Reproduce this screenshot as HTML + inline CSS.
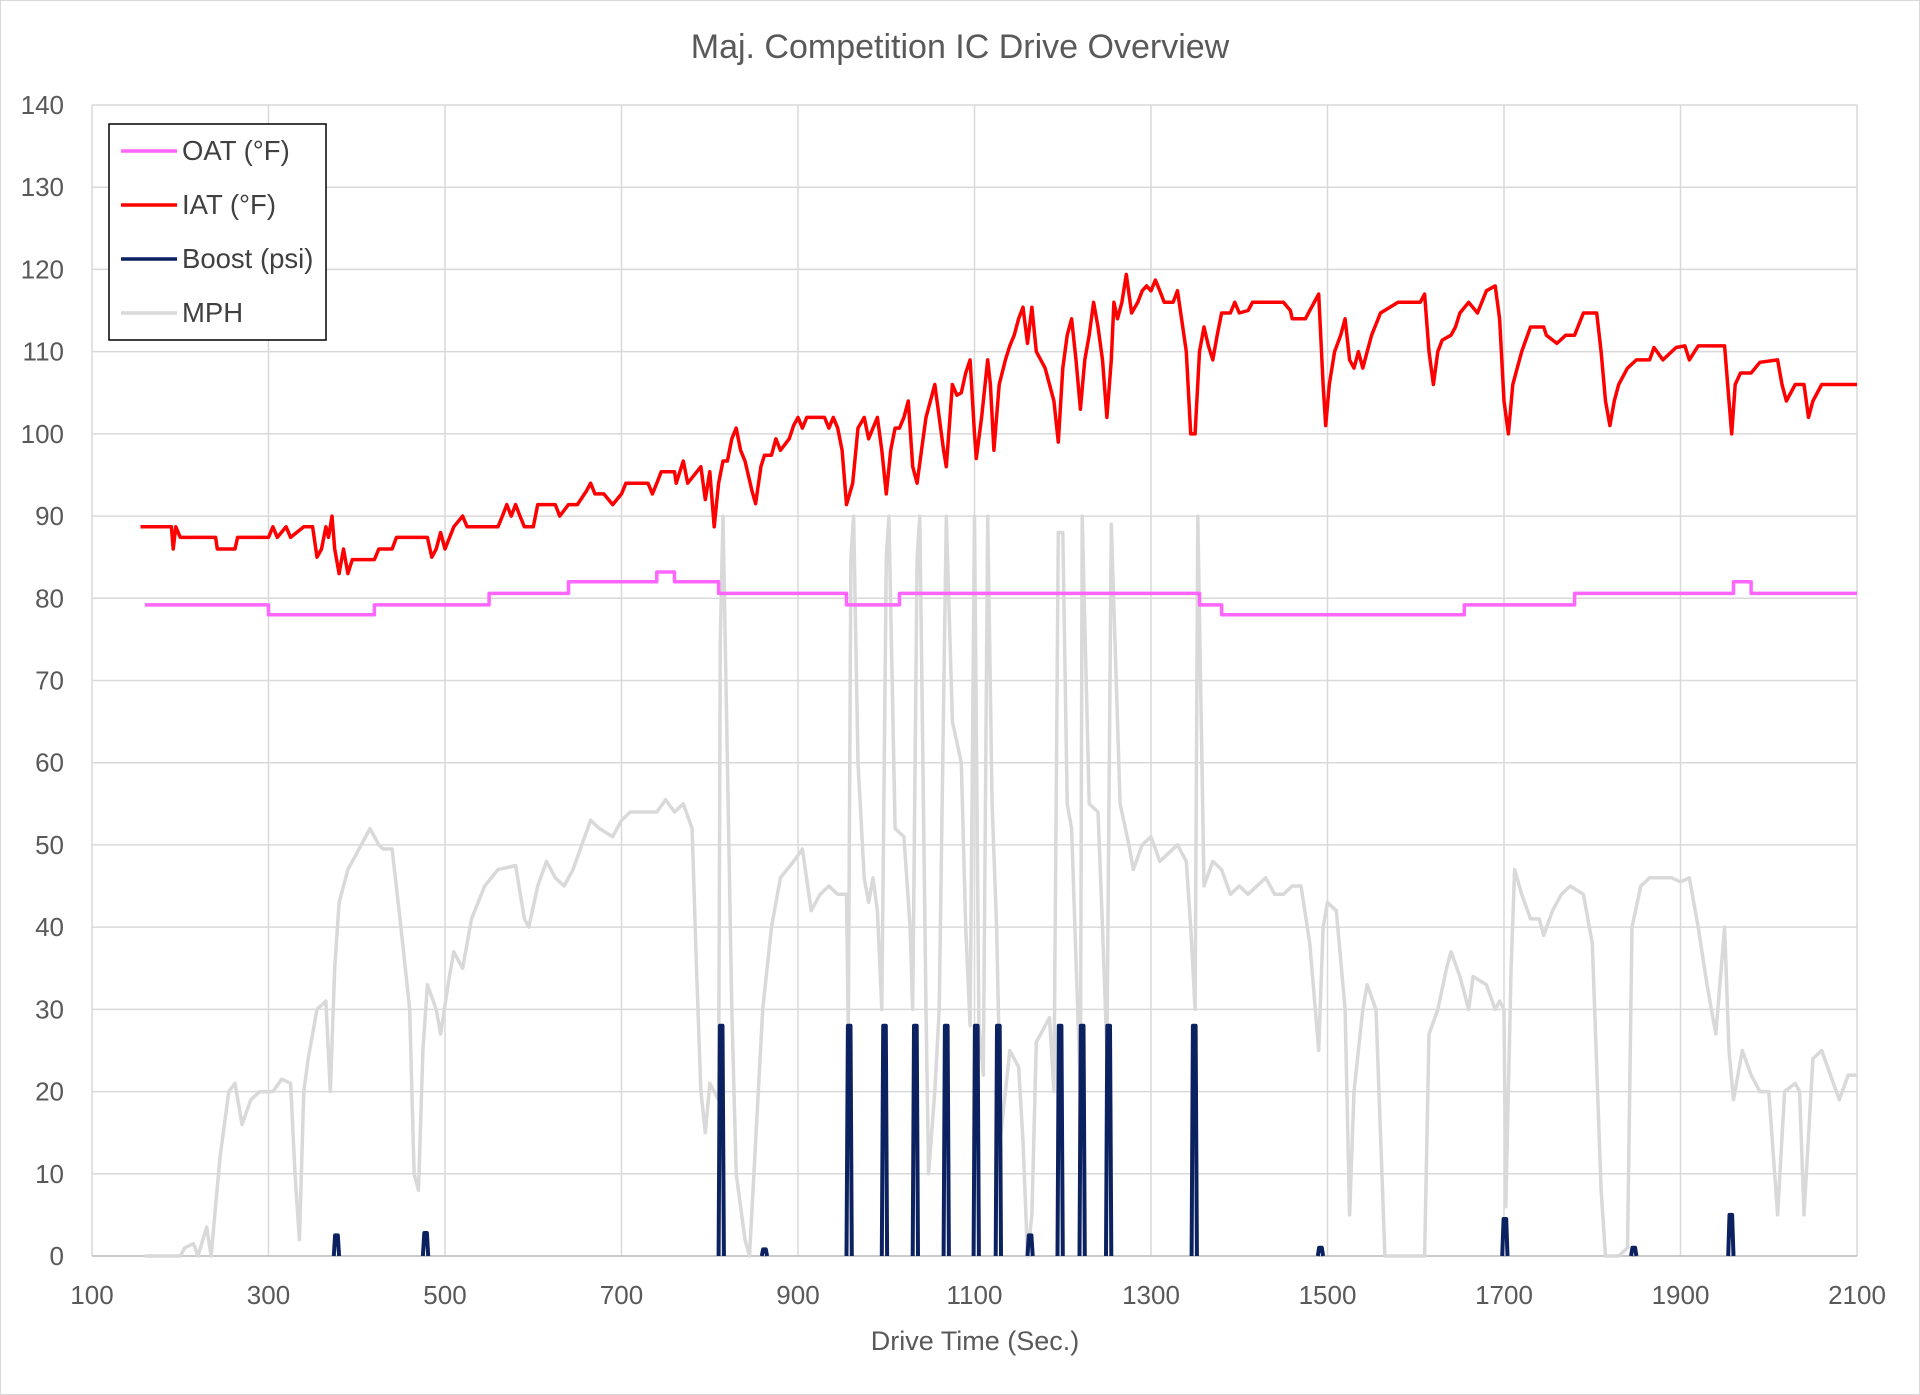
<!DOCTYPE html>
<html><head><meta charset="utf-8"><style>
html,body{margin:0;padding:0;background:#fff;}
svg{display:block;font-family:"Liberation Sans",sans-serif;}
</style></head><body>
<svg id="chart" width="1920" height="1395" viewBox="0 0 1920 1395" xmlns="http://www.w3.org/2000/svg">
<rect x="0.5" y="0.5" width="1919" height="1394" fill="#fff" stroke="#d9d9d9"/>
<text x="960" y="58" text-anchor="middle" font-size="34" fill="#595959">Maj. Competition IC Drive Overview</text>
<g id="grid"></g>
<g id="ticks"></g>
<g id="series"></g>
<text x="975" y="1350" text-anchor="middle" font-size="27" fill="#595959">Drive Time (Sec.)</text>
<g>
<rect x="109" y="124" width="217" height="216" fill="#fff" stroke="#000" stroke-width="1.5"/>
<g><line x1="121" y1="151" x2="177" y2="151" stroke="#ff66ff" stroke-width="3.5"/><text x="182" y="160" font-size="27.5" fill="#404040">OAT (°F)</text></g>
<g><line x1="121" y1="205" x2="177" y2="205" stroke="#ff0000" stroke-width="3.5"/><text x="182" y="214" font-size="27.5" fill="#404040">IAT (°F)</text></g>
<g><line x1="121" y1="259" x2="177" y2="259" stroke="#0c2160" stroke-width="3.5"/><text x="182" y="268" font-size="27.5" fill="#404040">Boost (psi)</text></g>
<g><line x1="121" y1="313" x2="177" y2="313" stroke="#d9d9d9" stroke-width="3.5"/><text x="182" y="322" font-size="27.5" fill="#404040">MPH</text></g>
</g>
</svg>
<script>
const xTicks=[100,300,500,700,900,1100,1300,1500,1700,1900,2100];
const yTicks=[0,10,20,30,40,50,60,70,80,90,100,110,120,130,140];
const oatX=[160,300,420,550,640,740,760,810,955,1015,1355,1380,1655,1780,1960,1980,2100];
const oatY=[79.2,78,79.2,80.6,82,83.2,82,80.6,79.2,80.6,79.2,78,79.2,80.6,82,80.6,80.6];
const iatX=[155,190,192,195,200,240,242,262,265,300,305,310,320,325,340,350,355,360,365,368,372,375,380,385,390,395,420,425,440,445,480,485,490,495,500,510,520,525,560,565,570,575,580,585,590,600,605,625,630,640,650,660,665,670,680,690,700,705,730,735,740,745,760,762,770,775,790,795,800,805,810,815,820,825,830,835,840,848,852,858,862,870,875,880,890,895,900,905,910,930,935,940,945,950,955,962,968,975,980,985,990,995,1000,1005,1010,1015,1020,1025,1030,1035,1040,1045,1050,1055,1060,1065,1068,1075,1080,1085,1090,1095,1100,1102,1108,1115,1118,1122,1128,1135,1140,1145,1150,1155,1160,1165,1170,1180,1185,1190,1195,1200,1205,1210,1215,1220,1225,1230,1235,1240,1245,1250,1255,1258,1262,1267,1272,1278,1285,1290,1295,1300,1305,1310,1315,1325,1330,1340,1345,1350,1355,1360,1365,1370,1375,1380,1390,1395,1400,1410,1415,1450,1458,1460,1475,1480,1490,1495,1498,1502,1508,1515,1520,1525,1530,1535,1540,1545,1550,1560,1580,1605,1610,1615,1620,1625,1630,1640,1645,1650,1660,1670,1680,1690,1695,1700,1705,1710,1720,1730,1745,1748,1760,1770,1780,1790,1805,1810,1815,1820,1825,1830,1840,1850,1865,1870,1880,1895,1905,1910,1920,1950,1955,1958,1962,1968,1980,1990,2010,2015,2020,2030,2040,2045,2050,2060,2100];
const iatY=[88.7,88.7,86,88.7,87.4,87.4,86,86,87.4,87.4,88.7,87.4,88.7,87.4,88.7,88.7,85,86,88.7,87.4,90,86,83,86,83,84.7,84.7,86,86,87.4,87.4,85,86,88,86,88.7,90,88.7,88.7,90,91.4,90,91.4,90,88.7,88.7,91.4,91.4,90,91.4,91.4,93,94,92.7,92.7,91.4,92.7,94,94,92.7,94,95.4,95.4,94,96.7,94,96,92,95.4,88.7,94,96.7,96.7,99.4,100.7,98,96.7,93,91.5,96,97.4,97.4,99.4,98,99.4,101,102,100.7,102,102,100.7,102,100.7,98,91.4,94,100.7,102,99.4,100.7,102,98,92.7,98,100.7,100.7,102,104,96,94,98,102,104,106,102,98,96,106,104.7,105,107.4,109,100,97,102,109,106,98,106,109,110.7,112,114,115.4,111,115.4,110,108,106,104,99,108,112,114,109,103,109,112,116,113,109,102,109,116,114,116,119.4,114.7,116,117.4,118,117.4,118.7,117.4,116,116,117.4,110,100,100,110,113,110.7,109,112,114.7,114.7,116,114.7,115,116,116,115,114,114,115,117,106,101,106,110,112,114,109,108,110,108,110,112,114.7,116,116,117,110,106,110,111.4,112,113,114.7,116,114.7,117.4,118,114,104,100,106,110,113,113,112,111,112,112,114.7,114.7,110,104,101,104,106,108,109,109,110.5,109,110.5,110.7,109,110.7,110.7,104,100,106,107.4,107.4,108.7,109,106,104,106,106,102,104,106,106];
const mphX=[160,200,205,215,220,230,235,245,255,262,270,280,290,305,315,325,330,335,340,345,355,365,370,375,380,390,400,405,415,425,430,440,450,460,465,470,475,480,490,495,505,510,520,530,545,560,580,590,595,605,615,625,635,645,655,665,675,690,700,710,740,750,760,770,780,785,790,795,800,810,812,815,820,825,830,840,845,850,860,870,880,895,905,915,925,935,945,955,957,960,963,968,975,980,985,990,995,1000,1003,1010,1020,1027,1030,1035,1038,1045,1048,1055,1060,1068,1075,1085,1090,1095,1100,1105,1110,1115,1120,1125,1130,1140,1150,1155,1160,1165,1170,1180,1185,1190,1195,1200,1205,1210,1220,1222,1230,1240,1245,1250,1255,1265,1275,1280,1290,1300,1310,1320,1330,1340,1345,1350,1353,1360,1370,1380,1390,1400,1410,1420,1430,1440,1450,1460,1470,1480,1490,1495,1500,1510,1520,1525,1530,1540,1545,1555,1565,1610,1615,1625,1635,1640,1650,1660,1665,1680,1690,1695,1700,1702,1708,1712,1720,1730,1740,1745,1755,1765,1775,1790,1800,1810,1815,1830,1840,1845,1855,1865,1880,1890,1900,1910,1920,1930,1940,1950,1955,1960,1970,1980,1990,2000,2010,2018,2030,2035,2040,2050,2060,2070,2080,2090,2100];
const mphY=[0,0,1,1.5,0,3.5,0,12,20,21,16,19,20,20,21.5,21,10,2,20,24,30,31,20,35,43,47,49,50,52,50,49.5,49.5,40,30,10,8,25,33,30,27,34,37,35,41,45,47,47.5,41,40,45,48,46,45,47,50,53,52,51,53,54,54,55.5,54,55,52,35,20,15,21,19,75,90,60,30,10,2,0,10,30,40,46,48,49.5,42,44,45,44,44,27,85,90,60,46,43,46,42,30,85,90,52,51,40,30,85,90,30,10,20,30,90,65,60,40,28,90,28,22,90,55,40,15,25,23,14,0,5,26,28,29,20,88,88,55,52,20,90,55,54,40,25,89,55,50,47,50,51,48,49,50,48,40,30,90,45,48,47,44,45,44,45,46,44,44,45,45,38,25,40,43,42,30,5,20,30,33,30,0,0,27,30,35,37,34,30,34,33,30,31,30,6,35,47,44,41,41,39,42,44,45,44,38,8,0,0,1,40,45,46,46,46,45.5,46,40,33,27,40,25,19,25,22,20,20,5,20,21,20,5,24,25,22,19,22,22];
const boostX=[377,478,813,862,958,998,1033,1068,1102,1127,1163,1197,1222,1252,1349,1492,1701,1847,1957];
const boostY=[2.5,2.8,28,0.8,28,28,28,28,28,28,2.5,28,28,28,28,1,4.5,1,5];

const NS="http://www.w3.org/2000/svg";
const X0=92,X1=1857,Y0=1256,Y1=105;
function sx(v){return X0+(v-100)/2000*(X1-X0);}
function sy(v){return Y0-v/140*(Y0-Y1);}
function mk(tag,attrs,parent){const e=document.createElementNS(NS,tag);for(const k in attrs)e.setAttribute(k,attrs[k]);parent.appendChild(e);return e;}
const grid=document.getElementById('grid'),ticks=document.getElementById('ticks'),series=document.getElementById('series');
yTicks.forEach(t=>{
  const l=mk('line',{x1:X0,x2:X1,y1:sy(t),y2:sy(t),stroke:'#d9d9d9','stroke-width':1.5},grid);
  
  
  const tx=mk('text',{x:64,y:sy(t)+9,'text-anchor':'end','font-size':26,fill:'#595959'},ticks);
  tx.textContent=t;
  
  
});
xTicks.forEach(t=>{
  const l=mk('line',{x1:sx(t),x2:sx(t),y1:Y1,y2:Y0,stroke:'#d9d9d9','stroke-width':1.5},grid);
  
  
  const tx=mk('text',{x:sx(t),y:1304,'text-anchor':'middle','font-size':26,fill:'#595959'},ticks);
  tx.textContent=t;
  
  
});
const ax=mk('line',{x1:X0,x2:X1,y1:Y0,y2:Y0,stroke:'#bfbfbf','stroke-width':1.5},grid);


function poly(xs,ys,color,w,name){
  const pts=xs.map((x,i)=>sx(x).toFixed(1)+','+sy(ys[i]).toFixed(1)).join(' ');
  const p=mk('polyline',{points:pts,fill:'none',stroke:color,'stroke-width':w,'stroke-linejoin':'round'},series);
  
  
}
poly(mphX,mphY,'#d9d9d9',3.5,'mph-line');
const ox=[],oy=[];
oatX.forEach((x,i)=>{if(i>0){ox.push(x);oy.push(oatY[i-1]);}ox.push(x);oy.push(oatY[i]);});
poly(ox,oy,'#ff66ff',3.5,'oat-line');
poly(iatX,iatY,'#ff0000',3.5,'iat-line');
boostX.forEach((x,i)=>{
  const xs=[x-3,x-1.5,x+1.5,x+3],ys=[0,boostY[i],boostY[i],0];
  poly(xs,ys,'#0c2160',4,'boost-spike');
});
</script>
</body></html>
